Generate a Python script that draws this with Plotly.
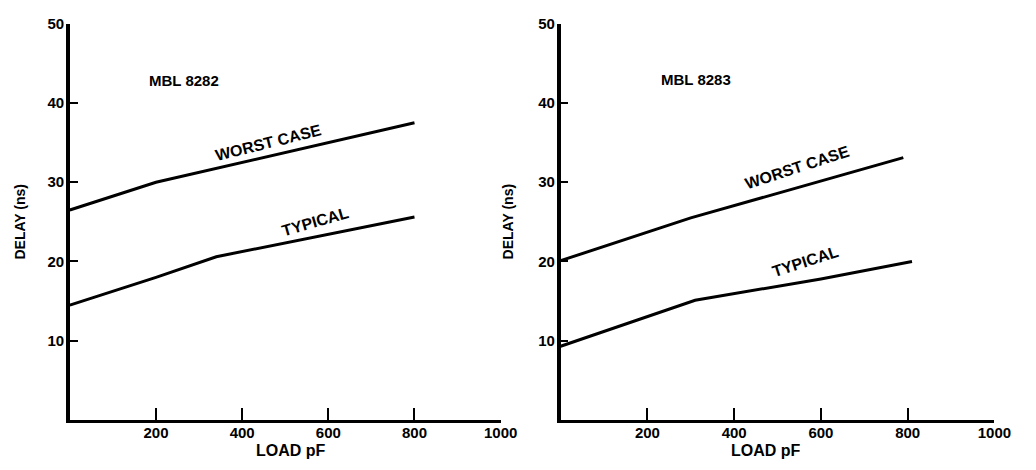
import plotly.graph_objects as go

# ---- data ----
load_8282_worst = [0, 200, 800]
delay_8282_worst = [26.5, 30.0, 37.5]
load_8282_typ = [0, 200, 340, 800]
delay_8282_typ = [14.5, 18.0, 20.6, 25.6]

load_8283_worst = [0, 300, 790]
delay_8283_worst = [20.1, 25.5, 33.1]
load_8283_typ = [0, 200, 310, 600, 810]
delay_8283_typ = [9.3, 13.0, 15.1, 17.8, 20.0]

x_ticks = [200, 400, 600, 800, 1000]
y_ticks = [10, 20, 30, 40, 50]

FONT = "Liberation Sans, Arial, sans-serif"
W, H = 1036, 470

fig = go.Figure()
line = dict(color="black", width=3)
fig.add_trace(go.Scatter(x=load_8282_worst, y=delay_8282_worst, mode="lines", line=line,
                         xaxis="x", yaxis="y", showlegend=False))
fig.add_trace(go.Scatter(x=load_8282_typ, y=delay_8282_typ, mode="lines", line=line,
                         xaxis="x", yaxis="y", showlegend=False))
fig.add_trace(go.Scatter(x=load_8283_worst, y=delay_8283_worst, mode="lines", line=line,
                         xaxis="x2", yaxis="y2", showlegend=False))
fig.add_trace(go.Scatter(x=load_8283_typ, y=delay_8283_typ, mode="lines", line=line,
                         xaxis="x2", yaxis="y2", showlegend=False))

tickfont = dict(family=FONT, size=15, color="black", weight="bold")
common_x = dict(range=[0, 1000], tickvals=x_ticks, ticks="inside", ticklen=12, tickwidth=2,
                tickcolor="black", showline=True, linecolor="black", linewidth=2.5,
                showgrid=False, zeroline=False, tickfont=tickfont, fixedrange=True,
                ticklabelstandoff=-3, ticklabeloverflow="allow")
common_y = dict(range=[0, 50], tickvals=y_ticks, ticks="inside", ticklen=8, tickwidth=2,
                tickcolor="black", showline=True, linecolor="black", linewidth=3.5,
                showgrid=False, zeroline=False, tickfont=tickfont, fixedrange=True,
                ticklabelstandoff=-1, ticklabeloverflow="allow")

y0 = (H - 419) / H
y1 = (H - 15) / H
fig.update_layout(
    width=W, height=H,
    margin=dict(l=0, r=0, t=0, b=0),
    paper_bgcolor="white", plot_bgcolor="white",
    hovermode=False,
    xaxis=dict(domain=[71 / W, 509 / W], anchor="y", **common_x),
    yaxis=dict(domain=[y0, y1], anchor="x", **common_y),
    xaxis2=dict(domain=[570 / W, 1011 / W], anchor="y2", **common_x),
    yaxis2=dict(domain=[y0, y1], anchor="x2", **common_y),
)

afont = dict(family=FONT, size=16, color="black", weight="bold")
annots = [
    dict(x=265, y=42.8, xref="x", yref="y", text="MBL 8282", textangle=0, font=dict(afont, size=15)),
    dict(x=462, y=35.0, xref="x", yref="y", text="WORST CASE", textangle=-14),
    dict(x=571, y=25.0, xref="x", yref="y", text="TYPICAL", textangle=-16),
    dict(x=311, y=42.9, xref="x2", yref="y2", text="MBL 8283", textangle=0, font=dict(afont, size=15)),
    dict(x=545, y=31.8, xref="x2", yref="y2", text="WORST CASE", textangle=-18),
    dict(x=564, y=20.0, xref="x2", yref="y2", text="TYPICAL", textangle=-18),
    # axis titles
    dict(x=20 / W, y=(H - 217) / H, xref="paper", yref="paper", text="DELAY (ns)",
         textangle=-90, font=dict(afont, size=14)),
    dict(x=516 / W, y=(H - 217) / H, xref="paper", yref="paper", text="DELAY (ns)",
         textangle=-90, font=dict(afont, size=14)),
    dict(x=296 / W, y=(H - 450) / H, xref="paper", yref="paper", text="LOAD pF",
         textangle=0, font=dict(afont, size=16)),
    dict(x=779 / W, y=(H - 450) / H, xref="paper", yref="paper", text="LOAD pF",
         textangle=0, font=dict(afont, size=16)),
]
for a in annots:
    a.setdefault("font", afont)
    a.update(showarrow=False, xanchor="center", yanchor="middle")
    fig.add_annotation(**a)

fig.write_html("out.html", config={"displayModeBar": False},
               post_script="document.body.style.margin='0';")
